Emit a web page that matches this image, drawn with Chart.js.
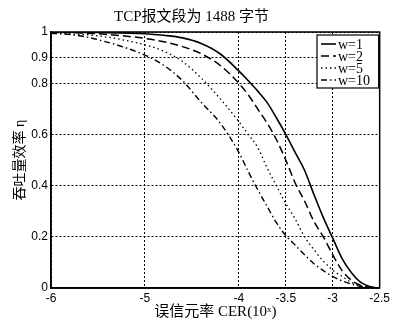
<!DOCTYPE html>
<html>
<head>
<meta charset="utf-8">
<script src="https://cdn.jsdelivr.net/npm/chart.js@4"></script>
<style>
html,body{margin:0;padding:0;background:#fff;}
canvas{display:block;}
</style>
</head>
<body>
<canvas id="c" width="393" height="324"></canvas>
<script>
// ---- data ----
const titleText = 'TCP报文段为 1488 字节';
const xTitle = '误信元率 CER(10ˣ)';
const yTitle = '吞吐量效率 η';
const xTicks = [-6, -5, -4, -3.5, -3, -2.5];
const yTicks = [0, 0.2, 0.4, 0.6, 0.8, 0.9, 1];
const seriesLabels = ['w=1', 'w=2', 'w=5', 'w=10'];
const xValues = [-6, -5.75, -5.5, -5, -4.8, -4.6, -4.4, -4.2, -4.0, -3.9, -3.8, -3.7, -3.6, -3.5, -3.4, -3.3, -3.2, -3.1, -3.0, -2.9, -2.8, -2.7, -2.6, -2.5];
const w1  = [1.0, 0.999, 0.998, 0.993, 0.987, 0.977, 0.955, 0.915, 0.848, 0.81, 0.77, 0.725, 0.665, 0.6, 0.53, 0.46, 0.365, 0.275, 0.195, 0.115, 0.06, 0.022, 0.005, 0];
const w2  = [0.998, 0.997, 0.993, 0.975, 0.962, 0.943, 0.915, 0.87, 0.8, 0.755, 0.7, 0.645, 0.58, 0.5, 0.41, 0.34, 0.26, 0.2, 0.13, 0.068, 0.03, 0.01, 0.003, 0];
const w5  = [0.995, 0.992, 0.985, 0.95, 0.925, 0.885, 0.82, 0.74, 0.65, 0.6, 0.55, 0.47, 0.40, 0.33, 0.27, 0.2, 0.15, 0.105, 0.07, 0.045, 0.022, 0.008, 0.002, 0];
const w10 = [0.995, 0.988, 0.97, 0.91, 0.87, 0.81, 0.725, 0.645, 0.53, 0.455, 0.385, 0.32, 0.255, 0.205, 0.168, 0.13, 0.095, 0.068, 0.045, 0.028, 0.015, 0.006, 0.002, 0];

const seriesValues = [w1, w2, w5, w10];
const dashes = [[], [8, 4], [1.5, 3], [6, 3, 1.5, 3]];
const widths = [1.6, 1.5, 1.3, 1.4];

const serif = '"Liberation Serif", "Noto Sans CJK SC", serif';
const sans = '"Liberation Sans", Arial, sans-serif';

const datasets = seriesValues.map((vals, i) => ({
  label: seriesLabels[i],
  data: xValues.map((x, j) => ({x: x, y: vals[j]})),
  borderColor: '#000',
  borderWidth: widths[i],
  borderDash: dashes[i],
  pointRadius: 0,
  fill: false,
  cubicInterpolationMode: 'monotone'
}));

const framePlugin = {
  id: 'frame',
  afterDatasetsDraw(chart) {
    const {ctx, chartArea: a} = chart;
    ctx.save();
    ctx.strokeStyle = '#000';
    ctx.lineWidth = 1.5;
    ctx.setLineDash([]);
    ctx.strokeRect(a.left, a.top, a.right - a.left, a.bottom - a.top);
    // legend box
    const bx = 317, by = 35, bw = a.right - 317 - 1, bh = 53;
    ctx.fillStyle = '#fff';
    ctx.fillRect(bx, by, bw, bh);
    ctx.lineWidth = 1.2;
    ctx.strokeRect(bx, by, bw, bh);
    ctx.font = '14px ' + serif;
    ctx.textBaseline = 'middle';
    ctx.textAlign = 'left';
    ctx.fillStyle = '#000';
    chart.data.datasets.forEach((ds, i) => {
      const y = by + 9 + i * 12;
      ctx.beginPath();
      ctx.lineWidth = ds.borderWidth;
      ctx.setLineDash(ds.borderDash);
      ctx.moveTo(bx + 4, y);
      ctx.lineTo(bx + 19, y);
      ctx.stroke();
      ctx.setLineDash([]);
      ctx.fillText(ds.label, bx + 21, y + 1);
    });
    ctx.restore();
  }
};

new Chart(document.getElementById('c'), {
  type: 'line',
  data: {datasets: datasets},
  plugins: [framePlugin],
  options: {
    responsive: false,
    animation: false,
    layout: {padding: {left: 0, right: 10, top: 0, bottom: 0}},
    plugins: {
      legend: {display: false},
      tooltip: {enabled: false},
      title: {
        display: true,
        text: titleText,
        color: '#000',
        font: {family: serif, size: 15, weight: 'normal', lineHeight: 1.2},
        padding: {top: 8, bottom: 6}
      }
    },
    scales: {
      x: {
        type: 'linear',
        min: -6, max: -2.5,
        afterBuildTicks: s => { s.ticks = xTicks.map(v => ({value: v})); },
        afterFit: s => { s.height = 36; },
        ticks: {color: '#000', font: {family: sans, size: 12}, padding: 3, maxRotation: 0, autoSkip: false,
                callback: v => String(v)},
        grid: {color: '#000', lineWidth: 1, drawTicks: false, tickLength: 0},
        border: {display: true, color: '#000', width: 1.5, dash: [2, 2]},
        title: {display: true, text: xTitle, color: '#000', font: {family: serif, size: 15, lineHeight: 1.2}, padding: {top: 0, bottom: 3}}
      },
      y: {
        type: 'linear',
        min: 0, max: 1,
        afterBuildTicks: s => { s.ticks = yTicks.map(v => ({value: v})); },
        afterFit: s => { s.width = 51; },
        ticks: {color: '#000', font: {family: sans, size: 12}, padding: 3, autoSkip: false,
                callback: v => String(v)},
        grid: {color: '#000', lineWidth: 1, drawTicks: false, tickLength: 0},
        border: {display: true, color: '#000', width: 1.5, dash: [2, 2]},
        title: {display: true, text: yTitle, color: '#000', font: {family: serif, size: 14, lineHeight: 1.2}, padding: {top: 12, bottom: 0}}
      }
    }
  }
});
</script>
</body>
</html>
